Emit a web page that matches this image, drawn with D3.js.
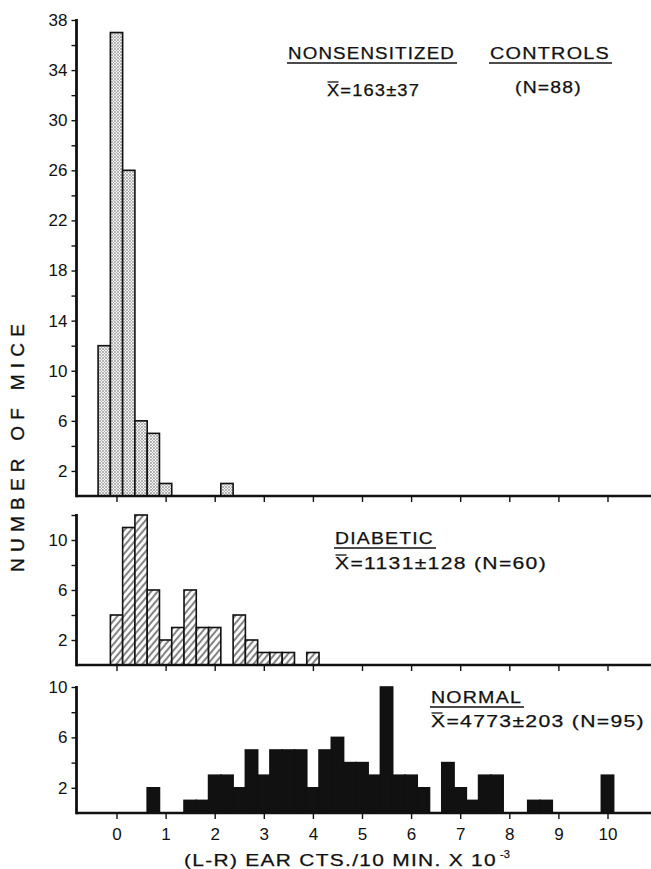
<!DOCTYPE html>
<html><head><meta charset="utf-8">
<script src="https://cdn.jsdelivr.net/npm/d3@7"></script>
<style>
body{margin:0;background:#fff}
svg{display:block}
text{font-family:"Liberation Sans",Arial,Helvetica,sans-serif;fill:#111}
</style>
</head><body>
<svg id="c" width="651" height="869"></svg>
<script>
// ---- data (bins of 250 counts, given by bin centre in thousands) ----
const binWidth = 0.25;
const controlCenters = [-0.25, 0, 0.25, 0.5, 0.75, 1.0, 2.25];
const controlCounts  = [12, 37, 26, 6, 5, 1, 1];
const diabeticCenters = [0, 0.25, 0.5, 0.75, 1.0, 1.25, 1.5, 1.75, 2.0, 2.5, 2.75, 3.0, 3.25, 3.5, 4.0];
const diabeticCounts  = [4, 11, 12, 6, 2, 3, 6, 3, 3, 4, 2, 1, 1, 1, 1];
const normalCenters = [0.75, 1.5, 1.75, 2.0, 2.25, 2.5, 2.75, 3.0, 3.25, 3.5, 3.75, 4.0, 4.25, 4.5, 4.75, 5.0, 5.25, 5.5, 5.75, 6.0, 6.25, 6.75, 7.0, 7.25, 7.5, 7.75, 8.5, 8.75, 10.0];
const normalCounts  = [2, 1, 1, 3, 3, 2, 5, 3, 5, 5, 5, 2, 5, 6, 4, 4, 3, 10, 3, 3, 2, 4, 2, 1, 3, 3, 1, 1, 3];
const xTicks = [0, 1, 2, 3, 4, 5, 6, 7, 8, 9, 10];
const controlYTicks  = [2, 4, 6, 8, 10, 12, 14, 16, 18, 20, 22, 24, 26, 28, 30, 32, 34, 36, 38];
const controlYLabels = [38, 34, 30, 26, 22, 18, 14, 10, 6, 2];
const diabeticYTicks  = [2, 4, 6, 8, 10, 12];
const diabeticYLabels = [10, 6, 2];
const normalYTicks  = [2, 4, 6, 8, 10];
const normalYLabels = [10, 6, 2];

const svg = d3.select("#c");
const defs = svg.append("defs");

// stipple pattern
const dots = defs.append("pattern").attr("id","dots").attr("patternUnits","userSpaceOnUse")
  .attr("width",3).attr("height",3);
dots.append("rect").attr("width",3).attr("height",3).attr("fill","#f4f4f4");
dots.append("circle").attr("cx",1).attr("cy",1).attr("r",0.75).attr("fill","#555");
dots.append("circle").attr("cx",2.5).attr("cy",2.5).attr("r",0.5).attr("fill","#888");
// hatch pattern
const hatch = defs.append("pattern").attr("id","hatch").attr("patternUnits","userSpaceOnUse")
  .attr("width",5).attr("height",5).attr("patternTransform","rotate(40)");
hatch.append("rect").attr("width",5).attr("height",5).attr("fill","#fbfbfb");
hatch.append("line").attr("x1",1).attr("y1",0).attr("x2",1).attr("y2",5)
  .attr("stroke","#222").attr("stroke-width",1.1);

const x = d3.scaleLinear().domain([0,10]).range([116.5, 607.5]);
const axisX0 = 76.5, axisX1 = 651;
const FONT = '"Liberation Sans",Arial,sans-serif';

const panels = [
  {centers: controlCenters, counts: controlCounts, fill: "url(#dots)", yTicks: controlYTicks, yLabels: controlYLabels,
   y: d3.scaleLinear().domain([0,38]).range([496, 20]), xLabels: false},
  {centers: diabeticCenters, counts: diabeticCounts, fill: "url(#hatch)", yTicks: diabeticYTicks, yLabels: diabeticYLabels,
   y: d3.scaleLinear().domain([0,12]).range([665, 515]), xLabels: false},
  {centers: normalCenters, counts: normalCounts, fill: "#111", yTicks: normalYTicks, yLabels: normalYLabels,
   y: d3.scaleLinear().domain([0,10]).range([813, 687]), xLabels: true}
];

panels.forEach(p => {
  const g = svg.append("g");
  const data = p.centers.map((c,i) => ({c, n: p.counts[i]}));
  g.selectAll("rect.bar").data(data).join("rect").attr("class","bar")
    .attr("x", d => x(d.c - binWidth/2))
    .attr("width", d => x(d.c + binWidth/2) - x(d.c - binWidth/2))
    .attr("y", d => p.y(d.n))
    .attr("height", d => p.y(0) - p.y(d.n))
    .attr("fill", p.fill)
    .attr("stroke", "#111").attr("stroke-width", 1.6);

  // x axis
  const xa = g.append("g").attr("transform", `translate(0,${p.y(0)})`)
    .call(d3.axisBottom(x).tickValues(xTicks).tickSize(6).tickSizeOuter(0).tickPadding(9)
      .tickFormat(p.xLabels ? d3.format("d") : () => ""));
  xa.select(".domain").remove();
  xa.selectAll(".tick line").attr("stroke","#111").attr("stroke-width",1.4);
  xa.selectAll(".tick text").attr("font-size",17).attr("fill","#111").style("font-family",FONT);
  g.append("line").attr("x1", axisX0).attr("x2", axisX1).attr("y1", p.y(0)).attr("y2", p.y(0))
    .attr("stroke","#111").attr("stroke-width",2.6);

  // y axis
  const ya = g.append("g").attr("transform", `translate(${axisX0},0)`)
    .call(d3.axisLeft(p.y).tickValues(p.yTicks).tickSize(5).tickSizeOuter(0).tickPadding(4)
      .tickFormat(d => p.yLabels.includes(d) ? d : ""));
  ya.select(".domain").remove();
  ya.selectAll(".tick line").attr("stroke","#111").attr("stroke-width",1.4);
  ya.selectAll(".tick text").attr("font-size",17).attr("fill","#111").style("font-family",FONT);
  g.append("line").attr("x1", axisX0).attr("x2", axisX0)
    .attr("y1", p.y.range()[1] - 1).attr("y2", p.y(0) + 1.3)
    .attr("stroke","#111").attr("stroke-width",2.8);
});

// ---- text annotations ----
function label(txt, x0, base, width, opts = {}) {
  const t = svg.append("text").attr("x", x0).attr("y", base)
    .attr("font-size", opts.size || 16)
    .style("letter-spacing", "1px")
    .attr("textLength", width).attr("lengthAdjust", "spacingAndGlyphs")
    .attr("stroke", "#111").attr("stroke-width", 0.25)
    .text(txt);
  if (opts.underline) {
    svg.append("line").attr("x1", x0 - 1).attr("x2", x0 + width + 2)
      .attr("y1", base + 4).attr("y2", base + 4).attr("stroke","#111").attr("stroke-width",1.6);
  }
  if (opts.overlineFirst) {
    const e = t.node().getExtentOfChar(0);
    svg.append("line").attr("x1", e.x + 0.5).attr("x2", e.x + Math.min(e.width, 13) - 1.5)
      .attr("y1", base - 14).attr("y2", base - 14).attr("stroke","#111").attr("stroke-width",1.3);
  }
  return t;
}

label("NONSENSITIZED", 288, 59, 167, {underline: true});
label("CONTROLS", 490, 59, 120, {underline: true});
label("X=163\u00B137", 327, 96, 93, {overlineFirst: true});
label("(N=88)", 515, 93, 67);

label("DIABETIC", 335, 544, 99, {underline: true});
label("X=1131\u00B1128 (N=60)", 335, 569, 212, {overlineFirst: true});

label("NORMAL", 431, 703, 91, {underline: true});
label("X=4773\u00B1203 (N=95)", 431, 727, 214, {overlineFirst: true});

// axis titles
label("(L-R) EAR CTS./10 MIN. X 10", 184, 866, 313);
svg.append("text").attr("x", 500).attr("y", 858).attr("font-size", 11)
  .attr("stroke","#111").attr("stroke-width",0.25).text("-3");

svg.append("text")
  .attr("transform", "translate(24,448) rotate(-90)")
  .attr("text-anchor", "middle")
  .attr("font-size", 19)
  .attr("textLength", 248).attr("lengthAdjust", "spacing")
  .attr("stroke", "#111").attr("stroke-width", 0.35)
  .text("NUMBER OF MICE");
</script>
</body></html>
